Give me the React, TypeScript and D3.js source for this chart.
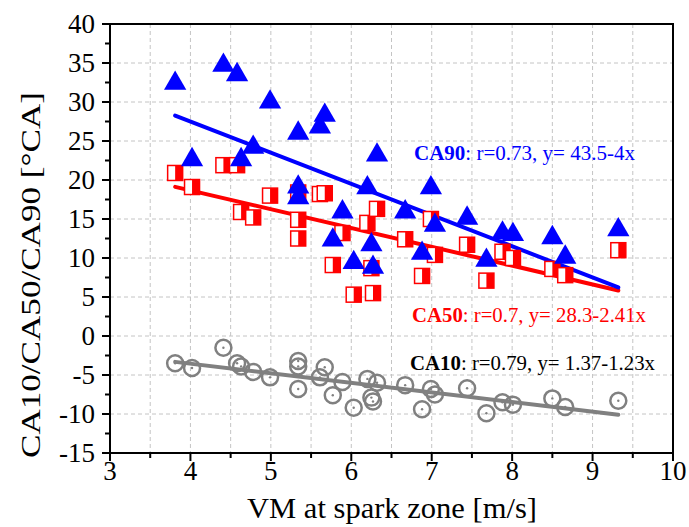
import React from "react";
import * as d3 from "d3";

const vmX = [3.81, 4.02, 4.41, 4.58, 4.63, 4.78, 4.99, 5.34, 5.34, 5.34, 5.61, 5.67, 5.77, 5.89, 6.03, 6.2, 6.25, 6.27, 6.32, 6.67, 6.88, 6.99, 7.04, 7.44, 7.68, 7.88, 8.01, 8.5, 8.66, 9.32];
const ca90 = [32.4, 22.6, 34.7, 33.5, 22.6, 24.2, 30.0, 26.0, 19.1, 17.7, 26.8, 28.3, 12.3, 15.9, 9.4, 19.0, 11.7, 8.8, 23.2, 15.9, 10.6, 19.0, 14.2, 15.1, 9.7, 13.2, 13.0, 12.6, 10.1, 13.6];
const ca50 = [20.9, 19.1, 21.9, 21.9, 15.9, 15.2, 18.0, 18.4, 14.9, 12.5, 18.2, 18.3, 9.1, 13.2, 5.3, 14.5, 8.7, 5.5, 16.3, 12.4, 7.7, 15.0, 10.4, 11.7, 7.1, 10.8, 10.0, 8.6, 7.8, 11.0];
const ca10 = [-3.5, -4.1, -1.5, -3.5, -3.9, -4.6, -5.3, -3.2, -3.9, -6.8, -5.3, -4.0, -7.6, -5.9, -9.2, -5.5, -7.9, -8.4, -6.0, -6.3, -9.4, -6.8, -7.5, -6.7, -9.9, -8.5, -8.8, -8.0, -9.1, -8.3];

// fits: intercept, slope
const fit90 = [43.5, -4];
const fit50 = [28.3, -2.41];
const fit10 = [1.37, -1.23];

const xTicks = [3, 4, 5, 6, 7, 8, 9, 10];
const yTicks = [40, 35, 30, 25, 20, 15, 10, 5, 0, -5, -10, -15];

const W = 689, H = 527;
const L = 110, R = 673, T = 24, B = 453;
const FONT = "Liberation Serif";
const fs = (size: number, extra: any = {}) => ({ fontFamily: FONT, fontSize: size + "px", ...extra });

export default function App() {
  const x = d3.scaleLinear().domain([3, 10]).range([L, R]);
  const y = d3.scaleLinear().domain([-15, 40]).range([B, T]);
  const xMin = d3.min(vmX)!, xMax = d3.max(vmX)!;
  const line = (f: number[]) =>
    d3.line<number>().x((v) => x(v)).y((v) => y(f[0] + f[1] * v))([xMin, xMax])!;
  const tri = d3.symbol().type(d3.symbolTriangle).size(215)()!;
  const gridX = d3.range(3.5, 10, 0.5);
  const gridY = d3.range(-10, 40, 5);
  const minorX = d3.range(3.5, 10, 1);
  const minorY = d3.range(-12.5, 40, 5);
  const sq = 15;
  return (
    <svg width={W} height={H} style={{ position: "absolute", left: 0, top: 0, background: "#fff" }}>
      <rect x={0} y={0} width={W} height={H} fill="#fff" />
      {gridX.map((v) => (
        <line key={"gx" + v} x1={x(v)} x2={x(v)} y1={T} y2={B} stroke="#c4c4c4" strokeWidth={1} strokeDasharray="4,3" />
      ))}
      {gridY.map((v) => (
        <line key={"gy" + v} x1={L} x2={R} y1={y(v)} y2={y(v)} stroke="#c4c4c4" strokeWidth={1} strokeDasharray="4,3" />
      ))}
      <path d={line(fit10)} stroke="#808080" strokeWidth={4} fill="none" strokeLinecap="round" />
      <path d={line(fit50)} stroke="#ff0000" strokeWidth={4} fill="none" strokeLinecap="round" />
      <path d={line(fit90)} stroke="#0000ff" strokeWidth={4} fill="none" strokeLinecap="round" />
      {vmX.map((v, i) => (
        <g key={"c" + i} transform={`translate(${x(v)},${y(ca10[i])})`}>
          <circle r={8} fill="none" stroke="#808080" strokeWidth={2.5} />
          <circle r={1.2} fill="#808080" />
        </g>
      ))}
      {vmX.map((v, i) => (
        <g key={"s" + i} transform={`translate(${x(v)},${y(ca50[i])})`}>
          <rect x={-sq / 2} y={-sq / 2} width={sq} height={sq} fill="#fff" stroke="#ff0000" strokeWidth={1.5} />
          <rect x={0} y={-sq / 2} width={sq / 2} height={sq} fill="#ff0000" />
        </g>
      ))}
      {vmX.map((v, i) => (
        <path key={"t" + i} d={tri} transform={`translate(${x(v)},${y(ca90[i])})`} fill="#0000ff" />
      ))}
      <rect x={L} y={T} width={R - L} height={B - T} fill="none" stroke="#000" strokeWidth={2} />
      {xTicks.map((v) => (
        <g key={"xt" + v}>
          <line x1={x(v)} x2={x(v)} y1={B} y2={B + 8} stroke="#000" strokeWidth={2} />
          <text x={x(v)} y={B + 27} style={fs(27)} textAnchor="middle">{v}</text>
        </g>
      ))}
      {minorX.map((v) => (
        <line key={"mx" + v} x1={x(v)} x2={x(v)} y1={B} y2={B + 5} stroke="#000" strokeWidth={2} />
      ))}
      {yTicks.map((v) => (
        <g key={"yt" + v}>
          <line x1={L - 8} x2={L} y1={y(v)} y2={y(v)} stroke="#000" strokeWidth={2} />
          <text x={L - 15} y={y(v) + 9} style={fs(27)} textAnchor="end">{v}</text>
        </g>
      ))}
      {minorY.map((v) => (
        <line key={"my" + v} x1={L - 5} x2={L} y1={y(v)} y2={y(v)} stroke="#000" strokeWidth={2} />
      ))}
      <text x={247} y={518} style={fs(29)} textLength={290} lengthAdjust="spacingAndGlyphs">VM at spark zone [m/s]</text>
      <text transform={`translate(40,458) rotate(-90)`} style={fs(28)} textLength={366} lengthAdjust="spacingAndGlyphs">CA10/CA50/CA90 [°CA]</text>
      <text x={414} y={160} style={fs(20)} fill="#0000ff" textLength={221} lengthAdjust="spacingAndGlyphs"><tspan fontWeight="bold">CA90</tspan>: r=0.73, y= 43.5-4x</text>
      <text x={412} y={322} style={fs(20)} fill="#ff0000" textLength={234} lengthAdjust="spacingAndGlyphs"><tspan fontWeight="bold">CA50</tspan>: r=0.7, y= 28.3-2.41x</text>
      <text x={410} y={370} style={fs(20)} fill="#000" textLength={245} lengthAdjust="spacingAndGlyphs"><tspan fontWeight="bold">CA10</tspan>: r=0.79, y= 1.37-1.23x</text>
    </svg>
  );
}
